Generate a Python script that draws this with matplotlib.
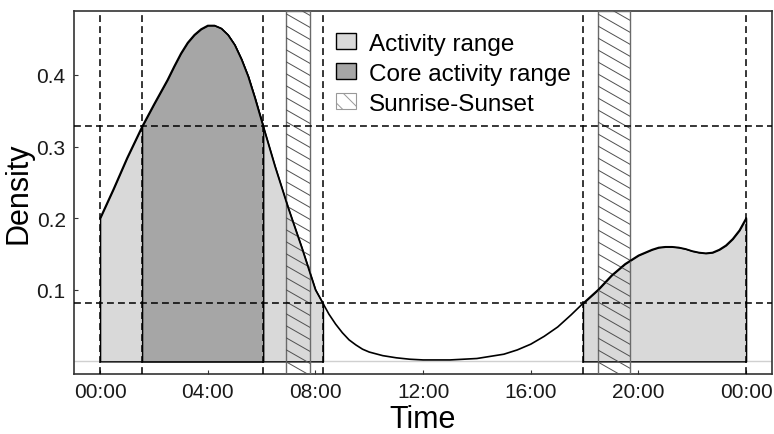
import numpy as np
import matplotlib
matplotlib.use('Agg')
import matplotlib.pyplot as plt
from matplotlib.patches import Patch, Rectangle

# ----------------------------------------------------------------------------------------------------------------------
# data
hours = [0.0, 0.5, 1.0, 1.56, 2.0, 2.5, 2.75, 3.0, 3.25, 3.5, 3.75, 4.0, 4.25, 4.5, 4.75, 5.0, 5.25, 5.5, 5.75,
         6.06, 6.5, 7.0, 7.5, 8.0, 8.28, 8.5, 8.75, 9.0, 9.25, 9.5, 9.75, 10.0, 10.5, 11.0, 11.5, 12.0, 12.5,
         13.0, 13.5, 14.0, 14.5, 15.0, 15.5, 16.0, 16.5, 17.0, 17.5, 17.94, 18.5, 19.0, 19.5, 20.0, 20.25,
         20.5, 20.75, 21.0, 21.25, 21.5, 21.75, 22.0, 22.25, 22.5, 22.75, 23.0, 23.25, 23.5, 23.75, 24.0]
density = [0.200, 0.241, 0.284, 0.328, 0.359, 0.393, 0.412, 0.430, 0.445, 0.456, 0.464, 0.469, 0.469, 0.465,
           0.456, 0.442, 0.422, 0.398, 0.368, 0.328, 0.272, 0.213, 0.158, 0.100, 0.081, 0.066, 0.052, 0.040,
           0.030, 0.023, 0.017, 0.013, 0.008, 0.005, 0.003, 0.002, 0.002, 0.002, 0.003, 0.004, 0.007, 0.010,
           0.016, 0.024, 0.035, 0.048, 0.065, 0.081, 0.100, 0.120, 0.136, 0.148, 0.152, 0.156, 0.159, 0.160,
           0.160, 0.159, 0.157, 0.154, 0.152, 0.151, 0.152, 0.156, 0.162, 0.171, 0.183, 0.200]

# activity ranges (hours), core range, sunrise/sunset bands
activity_ranges = [(0.0, 8.28), (17.94, 24.0)]
core_range = (1.56, 6.06)
sun_bands = [(6.91, 7.81), (18.48, 19.70)]
activity_level = 0.081
core_level = 0.328

tick_hours = [0, 4, 8, 12, 16, 20, 24]
tick_labels = ['00:00', '04:00', '08:00', '12:00', '16:00', '20:00', '00:00']
y_ticks = [0.1, 0.2, 0.3, 0.4]
y_labels = ['0.1', '0.2', '0.3', '0.4']
# ----------------------------------------------------------------------------------------------------------------------

plt.rcParams['font.family'] = ['Liberation Sans', 'DejaVu Sans']
plt.rcParams['hatch.linewidth'] = 0.7

col_light, col_core, col_frame = '#d9d9d9', '#a6a6a6', '#333333'
dash = (0, (4.5, 2.7))
x_lim, y_lim = (-0.97, 24.95), (-0.0176, 0.489)

h_arr, d_arr = np.array(hours), np.array(density)

fig = plt.figure(figsize=(7.74, 4.35), dpi=100)
ax = fig.add_axes([0.0956, 0.138, 0.9014, 0.834])
ax.set_xlim(*x_lim)
ax.set_ylim(*y_lim)

# baseline
ax.axhline(0.0, color='#d0d0d0', lw=1.0, zorder=1)

# activity range fill
for x_a, x_b in activity_ranges:
    mask = (h_arr >= x_a) & (h_arr <= x_b)
    ax.fill_between(h_arr, 0, d_arr, where=mask, facecolor=col_light, edgecolor='black', lw=1.0, zorder=2)

# core range fill
mask = (h_arr >= core_range[0]) & (h_arr <= core_range[1])
ax.fill_between(h_arr, 0, d_arr, where=mask, facecolor=col_core, edgecolor='black', lw=1.0, zorder=3)

# sunrise / sunset bands with shallow hatch (slope ~0.57 px/px, ~12 px apart)
ax_w_px, ax_h_px = 0.9014 * 774, 0.834 * 435
h_per_px = (x_lim[1] - x_lim[0]) / ax_w_px
d_per_px = (y_lim[1] - y_lim[0]) / ax_h_px
slope = -0.57 * d_per_px / h_per_px
step = 12 * d_per_px
for x_a, x_b in sun_bands:
    rect = Rectangle((x_a, y_lim[0]), x_b - x_a, y_lim[1] - y_lim[0], facecolor='none', edgecolor='#6a6a6a',
                     lw=1.0, zorder=4)
    ax.add_patch(rect)
    for y0 in np.arange(y_lim[0] - 0.05, y_lim[1] + 0.1, step):
        ln, = ax.plot([x_a, x_b], [y0, y0 + slope * (x_b - x_a)], color='#505050', lw=0.7, zorder=4)
        ln.set_clip_path(rect)

# density curve
ax.plot(h_arr, d_arr, color='black', lw=1.2, zorder=5, solid_joinstyle='round')

# reference lines
for x_v in [activity_ranges[0][0], core_range[0], core_range[1], activity_ranges[0][1],
            activity_ranges[1][0], activity_ranges[1][1]]:
    ax.axvline(x_v, color='black', lw=1.1, ls=dash, zorder=6)
for y_v in [core_level, activity_level]:
    ax.axhline(y_v, color='black', lw=1.1, ls=dash, zorder=6)

ax.set_xticks(tick_hours)
ax.set_xticklabels(tick_labels)
ax.set_yticks(y_ticks)
ax.set_yticklabels(y_labels)
ax.tick_params(direction='in', length=3, width=0.8, color=col_frame, labelsize=15, labelcolor='#1a1a1a', pad=6)
for sp in ax.spines.values():
    sp.set_color(col_frame)
    sp.set_linewidth(1.2)

ax.set_xlabel('Time', fontsize=22, labelpad=2)
ax.set_ylabel('Density', fontsize=22, labelpad=2)

handles = [Patch(facecolor=col_light, edgecolor='black', lw=1.0, label='Activity range'),
           Patch(facecolor=col_core, edgecolor='black', lw=1.0, label='Core activity range'),
           Patch(facecolor='white', edgecolor='#999999', hatch='\\\\', lw=0.8, label='Sunrise-Sunset')]
leg = ax.legend(handles=handles, loc='upper left', bbox_to_anchor=(0.376, 0.941), frameon=False,
                fontsize=17.5, borderpad=0, borderaxespad=0, handlelength=0.8, handleheight=0.65,
                handletextpad=0.55, labelspacing=0.33)
leg.set_zorder(7)

fig.savefig('out.png', dpi=100)
